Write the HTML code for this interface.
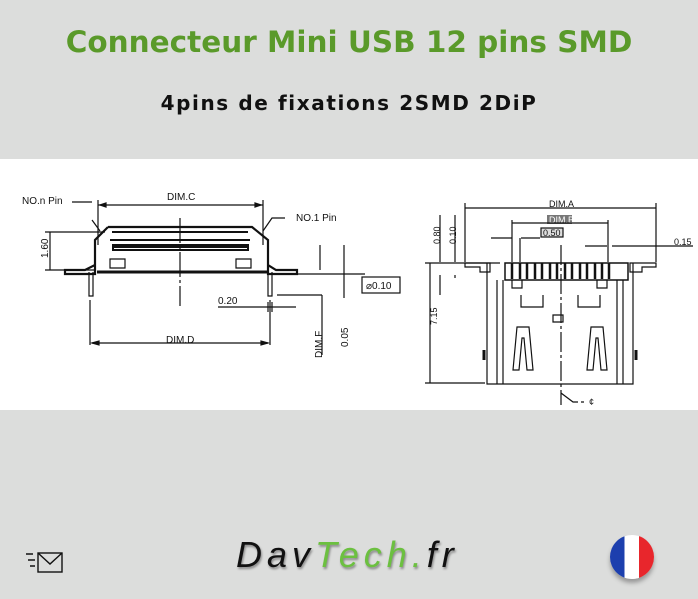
<!DOCTYPE html>
<html><head><meta charset="utf-8"><style>
html,body{margin:0;padding:0}
body{width:698px;height:599px;background:#dcdddc;position:relative;overflow:hidden;font-family:"Liberation Sans",sans-serif}
.t{position:absolute;left:0;width:698px;text-align:center;font-weight:bold;font-family:"DejaVu Sans",sans-serif}
</style></head><body>
<div class="t" style="top:25px;font-size:29.5px;color:#5a9a2a">Connecteur Mini USB 12 pins SMD</div>
<div class="t" style="top:91px;font-size:20px;letter-spacing:1.6px;color:#111">4pins de fixations 2SMD 2DiP</div>
<div style="position:absolute;left:0;top:159px;width:698px;height:251px;background:#fff"></div>
<svg style="position:absolute;left:0;top:0" width="698" height="599" font-family="Liberation Sans" fill="none" stroke="#111" stroke-width="1.2">
<g font-size="10" fill="#111" stroke="none">
<text x="22" y="204">NO.n  Pin</text>
<text x="167" y="200">DIM.C</text>
<text x="296" y="221">NO.1  Pin</text>
<text x="218" y="304">0.20</text>
<text x="166" y="343">DIM.D</text>
<text transform="translate(48,258) rotate(-90)">1.60</text>
<text transform="translate(322,358) rotate(-90)">DIM.F</text>
<text transform="translate(348,347) rotate(-90)">0.05</text>
<text x="366" y="289">⌀0.10</text>
</g>
<path d="M72 202H92M98 200V245M263 200V245M98 205H263"/>
<path d="M100 205l6-2v4zM261 205l-6-2v4z" fill="#111"/>
<path d="M100 231L92 220M285 218H272L263 231"/>
<path d="M45 232H105M45 270H95M50 232V270"/>
<path d="M108 227H252L268 240V265L276 270H297V274H268V265M108 227L95 240V265L85 270H65V274H95V265" stroke-width="2.2"/>
<path d="M112 232H248M110 240H250M113 245H248V250H113Z" stroke-width="2"/>
<path d="M113 246H248" stroke-width="4"/>
<path d="M97 272H268" stroke-width="3"/>
<path d="M110 259H125V268H110ZM236 259H251V268H236Z"/>
<path d="M89 272V296H93V272M268 272V296H272V272"/>
<path d="M180 218V306" stroke-dasharray="25 3 3 3"/>
<path d="M297 274H365M90 300V345M270 300V345M92 343H268"/>
<path d="M92 343l7-2v4zM268 343l-7-2v4z" fill="#111"/>
<path d="M218 307H296M268 302V312M272 302V312"/>
<path d="M277 295H322M322 295V355M320 245V270M344 245V298"/>
<rect x="362" y="277" width="38" height="16"/>
<g font-size="9" fill="#111" stroke="none">
<text x="549" y="207">DIM.A</text>
<rect x="547" y="215" width="25" height="9" fill="#777"/>
<text x="549" y="223" fill="#fff">DIM.B</text>
<rect x="541" y="228" width="22" height="9" fill="#ddd" stroke="#111"/>
<text x="543" y="236">0.50</text>
<text x="674" y="245">0.15</text>
<text transform="translate(437,325) rotate(-90)">7.15</text>
<text transform="translate(440,244) rotate(-90)">0.80</text>
<text transform="translate(456,244) rotate(-90)">0.10</text>
<text x="589" y="405">¢</text>
</g>
<path d="M465 208H656M465 203V262M656 203V262M512 223H608M512 220V262M608 220V262M491 238H512M521 238H540M585 246H607M612 246H693M520 238V262"/>
<path d="M440 215V262M455 215V262M440 275V295M455 275V278M425 263H500M425 383H485M430 263V383"/>
<path d="M505 263H628V280H505Z" stroke-width="1.5"/>
<path d="M465 263H490V272H480V267H465ZM630 263H656V267H642V272H630Z"/>
<g stroke-width="2.5"><path d="M512 263V279M520 263V279M527 263V279M535 263V279M542 263V279M550 263V279M557 263V279M565 263V279M572 263V279M580 263V279M587 263V279M595 263V279M602 263V279M609 263V279"/></g>
<path d="M487 263V384H633V263M497 280V384M623 280V384M503 280V384M617 280V384M487 384H633"/>
<path d="M512 280V288H522V280M597 280V288H607V280"/>
<path d="M521 295V307H543V295M578 295V307H600V295"/>
<path d="M513 370L517 327H529L533 370H527L524 338H522L519 370ZM587 370L591 327H603L607 370H601L598 338H596L593 370Z"/>
<path d="M553 315H563V322H553Z"/>
<path d="M561 245V405M561 393L573 402H585" stroke-dasharray="20 3 3 3"/>
<path d="M484 350V360M636 350V360" stroke-width="3"/>
<path d="M26 554H33M28 560H35M30 566H35" stroke-width="1.4"/>
<rect x="38" y="553" width="24" height="19" stroke-width="1.4"/>
<path d="M38 553L50 564L62 553" stroke-width="1.4"/>
</svg>
<div style="position:absolute;left:236px;top:534px;font-size:36px;font-style:italic;letter-spacing:5px;color:#111;text-shadow:1px 2px 2px #888">Dav<span style="color:#6cc040">Tech</span><span style="color:#6cc040">.</span>fr</div>
<div style="position:absolute;left:610px;top:535px;width:44px;height:44px;border-radius:50%;overflow:hidden;background:linear-gradient(90deg,#1c3fae 0 33%,#fff 33% 66%,#e8262c 66%);box-shadow:0 4px 4px #999"></div>
</body></html>
